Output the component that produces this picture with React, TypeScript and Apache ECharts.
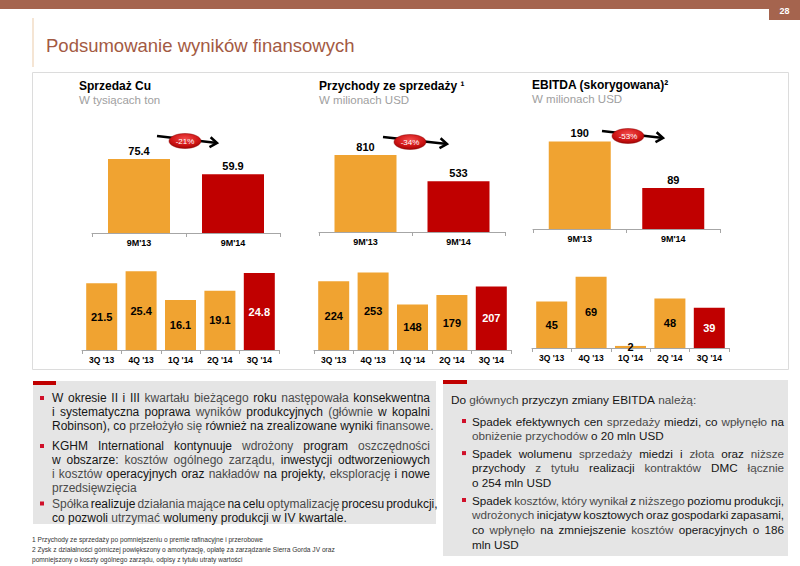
import React, { useEffect, useRef } from 'react';
import * as echarts from 'echarts';

// ---------- data ----------
const topCategories = ["9M'13", "9M'14"];
const copperSales9M = [75.4, 59.9];
const revenue9M = [810, 533];
const ebitda9M = [190, 89];
const changeLabels = ['-21%', '-34%', '-53%'];

const quarters = ["3Q '13", "4Q '13", "1Q '14", "2Q '14", "3Q '14"];
const copperSalesQ = [21.5, 25.4, 16.1, 19.1, 24.8];
const revenueQ = [224, 253, 148, 179, 207];
const ebitdaQ = [45, 69, 2, 48, 39];

const chartTitles = ['Sprzedaż Cu', 'Przychody ze sprzedaży ¹', 'EBITDA (skorygowana)²'];
const chartUnits = ['W tysiącach ton', 'W milionach USD', 'W milionach USD'];

const pageTitle = 'Podsumowanie wyników finansowych';
const pageNumber = '28';

type Seg = [string, number];
const leftParagraphs: Seg[][][] = [
  [
    [['W okresie II i III', 1], ['kwartału bieżącego', 0], ['roku', 1], ['następowała', 0], ['konsekwentna', 1]],
    [['i systematyczna poprawa', 1], ['wyników', 0], ['produkcyjnych', 1], ['(głównie', 0], ['w kopalni', 1]],
    [['Robinson), co', 1], ['przełożyło się', 0], ['również na zrealizowane wyniki', 1], ['finansowe.', 0]],
  ],
  [
    [['KGHM International kontynuuje', 1], ['wdrożony', 0], ['program', 1], ['oszczędności', 0]],
    [['w obszarze:', 1], ['kosztów ogólnego zarządu,', 0], ['inwestycji odtworzeniowych', 1]],
    [['i kosztów', 0], ['operacyjnych oraz', 1], ['nakładów', 0], ['na projekty,', 1], ['eksplorację', 0], ['i nowe', 1]],
    [['przedsięwzięcia', 0]],
  ],
  [
    [['Spółka', 0], ['realizuje', 1], ['działania mające', 0], ['na celu', 1], ['optymalizację', 0], ['procesu produkcji,', 1]],
    [['co pozwoli', 1], ['utrzymać', 0], ['wolumeny produkcji w IV kwartale.', 1]],
  ],
];

const rightIntro: Seg[] = [['Do', 1], ['głównych', 0], ['przyczyn zmiany EBITDA', 1], ['należą:', 0]];
const rightParagraphs: Seg[][][] = [
  [
    [['Spadek efektywnych cen', 1], ['sprzedaży', 0], ['miedzi, co', 1], ['wpłynęło', 0], ['na', 1]],
    [['obniżenie przychodów', 0], ['o 20 mln USD', 1]],
  ],
  [
    [['Spadek wolumenu', 1], ['sprzedaży', 0], ['miedzi i', 1], ['złota', 0], ['oraz', 1], ['niższe', 0]],
    [['przychody', 1], ['z tytułu', 0], ['realizacji', 1], ['kontraktów', 0], ['DMC', 1], ['łącznie', 0]],
    [['o 254 mln USD', 1]],
  ],
  [
    [['Spadek', 1], ['kosztów, który wynikał', 0], ['z', 1], ['niższego', 0], ['poziomu produkcji,', 1]],
    [['wdrożonych', 0], ['inicjatyw kosztowych oraz gospodarki zapasami,', 1]],
    [['co', 1], ['wpłynęło', 0], ['na zmniejszenie', 1], ['kosztów', 0], ['operacyjnych o 186', 1]],
    [['mln USD', 1]],
  ],
];

const footnotes = [
  '1 Przychody ze sprzedaży po pomniejszeniu o premie rafinacyjne i przerobowe',
  '2 Zysk z działalności górniczej powiększony o amortyzację, opłatę za zarządzanie Sierra Gorda JV oraz',
  'pomniejszony o koszty ogólnego zarządu, odpisy z tytułu utraty wartości',
];

// ---------- style ----------
const FONT = '"Liberation Sans", Arial, Helvetica, sans-serif';
const ORANGE = '#F0A331';
const RED = '#C00000';
const BROWN = '#A5644E';
const DARK = '#151515';
const LIGHT = '#4a4a4a';

const topGrids = [
  { left: 92, top: 135, width: 188, height: 98, max: 100 },
  { left: 319, top: 137, width: 186, height: 95, max: 1000 },
  { left: 533, top: 137, width: 187, height: 92, max: 200 },
];
const bottomGrids = [
  { left: 82, top: 257, width: 197, height: 93, max: 30 },
  { left: 314, top: 258, width: 197, height: 92, max: 300 },
  { left: 532, top: 255, width: 197, height: 93, max: 90 },
];
const titlePos = [
  { x: 79, y: 86 },
  { x: 319, y: 86 },
  { x: 532, y: 85 },
];
const arrows = [
  { x1: 157, y1: 136, x2: 217, y2: 143, cx: 185, cy: 141 },
  { x1: 383, y1: 137, x2: 447, y2: 144, cx: 410, cy: 142 },
  { x1: 602, y1: 131, x2: 663, y2: 138, cx: 628, cy: 136 },
];

function layoutBlock(
  ctx: CanvasRenderingContext2D,
  paragraphs: Seg[][][],
  x: number,
  width: number,
  y0: number,
  lineH: number,
  paraGaps: number[],
  fontSize: number,
  bulletX: number | null
) {
  const els: any[] = [];
  let y = y0;
  ctx.font = `${fontSize}px ${FONT}`;
  const space = ctx.measureText(' ').width;
  paragraphs.forEach((para, pi) => {
    if (pi > 0) y += paraGaps[pi - 1] || 0;
    if (bulletX !== null) {
      els.push({ type: 'rect', silent: true, z: 5, shape: { x: bulletX, y: y - 2, width: 4, height: 4 }, style: { fill: '#D0102A' } });
    }
    para.forEach((line, li) => {
      const words: { w: string; dark: number }[] = [];
      line.forEach(([txt, dark]) => txt.split(' ').filter(Boolean).forEach((w) => words.push({ w, dark })));
      const widths = words.map((o) => ctx.measureText(o.w).width);
      const total = widths.reduce((a, b) => a + b, 0);
      const justify = li < para.length - 1 && words.length > 1;
      const gap = justify ? Math.max(space * 0.6, (width - total) / (words.length - 1)) : space;
      let cx = x;
      words.forEach((o, i) => {
        els.push({
          type: 'text', silent: true, z: 5, x: cx, y,
          style: { text: o.w, fill: o.dark ? DARK : LIGHT, fontSize, fontFamily: FONT, align: 'left', verticalAlign: 'middle' },
        });
        cx += widths[i] + gap;
      });
      y += lineH;
    });
  });
  return els;
}

function barSeries(idx: number, values: number[], isTop: boolean) {
  const n = values.length;
  return {
    type: 'bar',
    xAxisIndex: idx,
    yAxisIndex: idx,
    barWidth: isTop ? 62 : 31,
    data: values.map((v, i) => ({
      value: v,
      itemStyle: { color: i === n - 1 ? RED : ORANGE },
      label: { color: !isTop && i === n - 1 ? '#ffffff' : '#000000' },
    })),
    label: {
      show: true,
      position: isTop ? 'top' : 'inside',
      distance: 3,
      fontSize: 11,
      fontWeight: 'bold',
      fontFamily: FONT,
    },
  };
}

export default function App() {
  const ref = useRef<HTMLDivElement>(null);
  useEffect(() => {
    if (!ref.current) return;
    const chart = echarts.init(ref.current, null, { renderer: 'svg' });
    const canvas = document.createElement('canvas');
    const ctx = canvas.getContext('2d') as CanvasRenderingContext2D;

    const grids: any[] = [];
    const xAxes: any[] = [];
    const yAxes: any[] = [];
    const series: any[] = [];
    const topData = [copperSales9M, revenue9M, ebitda9M];
    const bottomData = [copperSalesQ, revenueQ, ebitdaQ];

    topGrids.forEach((g, i) => {
      grids.push({ left: g.left, top: g.top, width: g.width, height: g.height });
      xAxes.push({
        type: 'category', gridIndex: i, data: topCategories,
        axisLine: { lineStyle: { color: '#a6a6a6', width: 1 } },
        axisTick: { show: true, length: 4, lineStyle: { color: '#a6a6a6' } },
        axisLabel: { fontSize: 9, fontWeight: 'bold', color: '#000', margin: 5, fontFamily: FONT },
      });
      yAxes.push({ type: 'value', gridIndex: i, min: 0, max: g.max, show: false, splitLine: { show: false } });
      series.push(barSeries(i, topData[i], true));
    });
    bottomGrids.forEach((g, j) => {
      const i = j + 3;
      grids.push({ left: g.left, top: g.top, width: g.width, height: g.height });
      xAxes.push({
        type: 'category', gridIndex: i, data: quarters,
        axisLine: { lineStyle: { color: '#a6a6a6', width: 1 } },
        axisTick: { show: true, length: 4, lineStyle: { color: '#a6a6a6' } },
        axisLabel: { fontSize: 8.5, fontWeight: 'bold', color: '#000', margin: 5, fontFamily: FONT },
      });
      yAxes.push({ type: 'value', gridIndex: i, min: 0, max: g.max, show: false, splitLine: { show: false } });
      series.push(barSeries(i, bottomData[j], false));
    });

    const els: any[] = [];
    // header
    els.push({ type: 'rect', silent: true, shape: { x: 0, y: 0, width: 800, height: 9 }, style: { fill: BROWN } });
    els.push({ type: 'rect', silent: true, shape: { x: 769, y: 0, width: 31, height: 20 }, style: { fill: BROWN } });
    els.push({ type: 'text', silent: true, x: 784.5, y: 11, style: { text: pageNumber, fill: '#fff', fontSize: 9, fontWeight: 'bold', fontFamily: FONT, align: 'center', verticalAlign: 'middle' } });
    els.push({ type: 'line', silent: true, shape: { x1: 33, y1: 18, x2: 33, y2: 67 }, style: { stroke: '#F2DCC6', lineWidth: 1.5 } });
    els.push({ type: 'text', silent: true, x: 46, y: 45, style: { text: pageTitle, fill: '#A35A43', fontSize: 18.5, fontFamily: FONT, align: 'left', verticalAlign: 'middle' } });
    // panel
    els.push({ type: 'rect', silent: true, shape: { x: 32.5, y: 72.5, width: 756, height: 297 }, style: { fill: 'none', stroke: '#dcdcdc', lineWidth: 1 } });
    // chart titles
    titlePos.forEach((p, i) => {
      els.push({ type: 'text', silent: true, x: p.x, y: p.y, style: { text: chartTitles[i], fill: '#000', fontSize: 12, fontWeight: 'bold', fontFamily: FONT, align: 'left', verticalAlign: 'middle' } });
      els.push({ type: 'text', silent: true, x: p.x, y: p.y + 13.5, style: { text: chartUnits[i], fill: '#a0a0a0', fontSize: 11.5, fontFamily: FONT, align: 'left', verticalAlign: 'middle' } });
    });
    // change badges
    arrows.forEach((a, i) => {
      const dx = a.x2 - a.x1;
      const dy = a.y2 - a.y1;
      const len = Math.sqrt(dx * dx + dy * dy);
      const ux = dx / len, uy = dy / len;
      const nx = -uy, ny = ux;
      els.push({ type: 'line', silent: true, z: 10, shape: { x1: a.x1, y1: a.y1, x2: a.x2 - ux * 2, y2: a.y2 - uy * 2 }, style: { stroke: '#000', lineWidth: 2.5 } });
      els.push({
        type: 'polyline', silent: true, z: 10,
        shape: { points: [[a.x2 - ux * 7 + nx * 5, a.y2 - uy * 7 + ny * 5], [a.x2, a.y2], [a.x2 - ux * 7 - nx * 5, a.y2 - uy * 7 - ny * 5]] },
        style: { stroke: '#000', lineWidth: 2.5, fill: 'none', lineJoin: 'miter' },
      });
      els.push({
        type: 'ellipse', silent: true, z: 11,
        shape: { cx: a.cx, cy: a.cy, rx: 16, ry: 7.5 },
        style: {
          fill: new echarts.graphic.RadialGradient(0.5, 0.35, 0.7, [
            { offset: 0, color: '#F24A4A' },
            { offset: 0.6, color: '#D01616' },
            { offset: 1, color: '#960000' },
          ]),
          stroke: '#8a0000', lineWidth: 0.5,
        },
      });
      els.push({ type: 'text', silent: true, z: 12, x: a.cx, y: a.cy, style: { text: changeLabels[i], fill: '#fff', fontSize: 8, fontFamily: FONT, align: 'center', verticalAlign: 'middle' } });
    });
    // text boxes
    els.push({ type: 'rect', silent: true, z: 1, shape: { x: 33, y: 381, width: 403, height: 143 }, style: { fill: '#E5E5E5' } });
    els.push({ type: 'rect', silent: true, z: 2, shape: { x: 33, y: 381, width: 23, height: 4 }, style: { fill: RED } });
    els.push({ type: 'rect', silent: true, z: 1, shape: { x: 443, y: 380, width: 345, height: 176 }, style: { fill: '#E5E5E5' } });
    els.push({ type: 'rect', silent: true, z: 2, shape: { x: 443, y: 380, width: 24, height: 4 }, style: { fill: RED } });
    els.push(...layoutBlock(ctx, leftParagraphs, 52, 378, 398, 14, [6, 1.5], 12, 40));
    els.push(...layoutBlock(ctx, [[rightIntro]], 451, 330, 400, 13, [], 11.8, null));
    els.push(...layoutBlock(ctx, rightParagraphs, 472, 312, 421, 14.8, [2.5, 2.5], 11.7, 462));
    // footnotes
    footnotes.forEach((t, i) => {
      els.push({ type: 'text', silent: true, x: 32, y: 539 + i * 10, style: { text: t, fill: '#333', fontSize: 6.6, fontFamily: FONT, align: 'left', verticalAlign: 'middle' } });
    });

    chart.setOption({
      animation: false,
      backgroundColor: '#ffffff',
      grid: grids,
      xAxis: xAxes,
      yAxis: yAxes,
      series,
      graphic: { elements: els },
    });
    return () => chart.dispose();
  }, []);
  return <div ref={ref} style={{ position: 'fixed', left: 0, top: 0, width: 800, height: 566, background: '#fff' }} />;
}
